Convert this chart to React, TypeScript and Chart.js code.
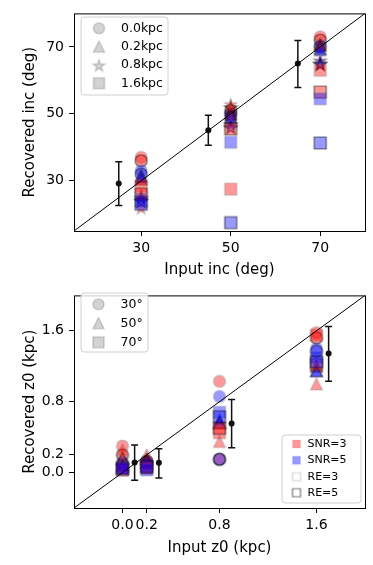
import React, { useEffect, useRef } from 'react';
import { Chart, registerables } from 'chart.js';

Chart.register(...registerables);

const FONT = "'DejaVu Sans', sans-serif";

// ---------------- Top panel: inclination ----------------
const incInput = [30, 50, 70];
const incTickValues = [30, 50, 70];
const incAxisLimits = [15, 80];
const z0Labels = ['0.0kpc', '0.2kpc', '0.8kpc', '1.6kpc'];
// recovered inclination; rows: SNR=3/RE=3, SNR=3/RE=5, SNR=5/RE=3, SNR=5/RE=5
const recInc_z00 = [[37, 50, 73], [36, 51, 72], [33, 49, 70.5], [32, 50, 70]];
const recInc_z02 = [[31, 49, 71], [30.5, 50, 70.5], [31, 48, 69], [31.5, 49, 69.5]];
const recInc_z08 = [[22, 53, 66], [24, 52, 65], [26, 47, 66], [25, 46, 65]];
const recInc_z16 = [[28.5, 27.5, 63], [26, 45.5, 56.5], [24, 41.5, 54.5], [23, 17.5, 41.3]];
const incErrX = [25, 45, 65];
const incErrMid = [29.2, 45.1, 65];
const incErrLo = [22.6, 40.6, 57.9];
const incErrHi = [35.7, 49.6, 71.9];

// ---------------- Bottom panel: z0 ----------------
const z0Input = [0.0, 0.2, 0.8, 1.6];
const z0TickValues = [0.0, 0.2, 0.8, 1.6];
const z0AxisLimits = [-0.4, 2.0];
const incLabels = ['30°', '50°', '70°'];
const recZ0_inc30 = [[0.3, 0.12, 1.03, 1.58], [0.2, 0.1, 0.15, 1.52], [0.12, 0.12, 0.86, 1.4], [0.09, 0.13, 0.15, 1.37]];
const recZ0_inc50 = [[0.26, 0.2, 0.35, 1.0], [0.16, 0.15, 0.56, 1.2], [0.1, 0.1, 0.6, 1.15], [0.08, 0.12, 0.57, 1.15]];
const recZ0_inc70 = [[0.05, 0.05, 0.45, 1.55], [0.03, 0.06, 0.5, 1.22], [0.04, 0.03, 0.68, 1.3], [0.05, 0.07, 0.63, 1.25]];
const z0ErrX = [0.1, 0.3, 0.9, 1.7];
const z0ErrMid = [0.115, 0.11, 0.555, 1.344];
const z0ErrLo = [-0.087, -0.06, 0.28, 1.03];
const z0ErrHi = [0.31, 0.27, 0.825, 1.65];

const comboLabels = ['SNR=3', 'SNR=5', 'RE=3', 'RE=5'];

// styles for combos: SNR3/RE3, SNR3/RE5, SNR5/RE3, SNR5/RE5
const RED = 'rgba(255,0,0,0.4)';
const BLUE = 'rgba(0,0,255,0.4)';
const EDGE3 = 'rgba(128,128,128,0.4)';
const EDGE5 = 'rgba(0,0,0,0.55)';
const comboFill = [RED, RED, BLUE, BLUE];
const comboEdge = [EDGE3, EDGE5, EDGE3, EDGE5];

function markerCanvas(shape: string, fill: string, stroke: string, size = 12, lw = 1.2) {
  const pad = 3;
  const d = Math.ceil(size + pad * 2);
  const c = document.createElement('canvas');
  c.width = d;
  c.height = d;
  const ctx = c.getContext('2d')!;
  const cx = d / 2, cy = d / 2, r = size / 2;
  ctx.beginPath();
  if (shape === 'circle') {
    ctx.arc(cx, cy, r, 0, Math.PI * 2);
  } else if (shape === 'triangle') {
    ctx.moveTo(cx, cy - r);
    ctx.lineTo(cx - r, cy + r);
    ctx.lineTo(cx + r, cy + r);
    ctx.closePath();
  } else if (shape === 'square') {
    ctx.rect(cx - r, cy - r, size, size);
  } else if (shape === 'star') {
    const R = r * 1.1;
    for (let i = 0; i < 10; i++) {
      const rr = i % 2 === 0 ? R : R * 0.382;
      const a = -Math.PI / 2 + (i * Math.PI) / 5;
      const px = cx + rr * Math.cos(a);
      const py = cy + 1 + rr * Math.sin(a);
      if (i === 0) ctx.moveTo(px, py);
      else ctx.lineTo(px, py);
    }
    ctx.closePath();
  }
  ctx.fillStyle = fill;
  ctx.fill();
  if (lw > 0) {
    ctx.lineWidth = lw;
    ctx.strokeStyle = stroke;
    ctx.stroke();
  }
  return c;
}

function framePlugin() {
  return {
    id: 'frame',
    afterDraw(chart: any) {
      const { ctx, chartArea: a } = chart;
      ctx.save();
      ctx.strokeStyle = '#000';
      ctx.lineWidth = 1;
      ctx.strokeRect(a.left + 0.5, a.top + 0.5, a.right - a.left, a.bottom - a.top);
      ctx.restore();
    },
  };
}

function errorBarPlugin(xs: number[], lo: number[], hi: number[]) {
  return {
    id: 'errbars',
    beforeDatasetsDraw(chart: any) {
      const { ctx, scales } = chart;
      const sx = scales.x, sy = scales.y;
      ctx.save();
      ctx.strokeStyle = '#111';
      ctx.lineWidth = 1.5;
      xs.forEach((xv, i) => {
        const px = sx.getPixelForValue(xv);
        const pl = sy.getPixelForValue(lo[i]);
        const ph = sy.getPixelForValue(hi[i]);
        ctx.beginPath();
        ctx.moveTo(px, pl);
        ctx.lineTo(px, ph);
        ctx.moveTo(px - 3.5, pl);
        ctx.lineTo(px + 3.5, pl);
        ctx.moveTo(px - 3.5, ph);
        ctx.lineTo(px + 3.5, ph);
        ctx.stroke();
      });
      ctx.restore();
    },
  };
}

type LegendSpec = {
  id: string;
  box: [number, number, number, number];
  markerX: number;
  textX: number;
  rows: number[];
  items: { img: HTMLCanvasElement; label: string }[];
  fontSize: number;
};

function legendPlugin(spec: LegendSpec) {
  return {
    id: spec.id,
    afterDraw(chart: any) {
      const ctx = chart.ctx;
      const [x, y, w, h] = spec.box;
      ctx.save();
      ctx.beginPath();
      const r = 3;
      ctx.moveTo(x + r, y);
      ctx.lineTo(x + w - r, y);
      ctx.arcTo(x + w, y, x + w, y + r, r);
      ctx.lineTo(x + w, y + h - r);
      ctx.arcTo(x + w, y + h, x + w - r, y + h, r);
      ctx.lineTo(x + r, y + h);
      ctx.arcTo(x, y + h, x, y + h - r, r);
      ctx.lineTo(x, y + r);
      ctx.arcTo(x, y, x + r, y, r);
      ctx.closePath();
      ctx.fillStyle = 'rgba(255,255,255,0.8)';
      ctx.fill();
      ctx.strokeStyle = '#d0d0d0';
      ctx.lineWidth = 1;
      ctx.stroke();
      ctx.font = `${spec.fontSize}px ${FONT}`;
      ctx.textBaseline = 'middle';
      ctx.textAlign = 'left';
      ctx.fillStyle = '#000';
      spec.items.forEach((it, i) => {
        ctx.drawImage(it.img, spec.markerX - it.img.width / 2, spec.rows[i] - it.img.height / 2);
        ctx.fillText(it.label, spec.textX, spec.rows[i]);
      });
      ctx.restore();
    },
  };
}

function axisConfig(opts: {
  min: number; max: number; ticks: number[]; fmt: (v: number) => string;
  title: string; horizontal: boolean; size: number; titlePad: any;
}) {
  return {
    type: 'linear',
    min: opts.min,
    max: opts.max,
    afterBuildTicks: (s: any) => {
      s.ticks = opts.ticks.map((v) => ({ value: v }));
    },
    afterFit: (s: any) => {
      if (opts.horizontal) s.height = opts.size;
      else s.width = opts.size;
    },
    ticks: {
      autoSkip: false,
      maxRotation: 0,
      minRotation: 0,
      padding: opts.horizontal ? 4 : 5,
      color: '#000',
      font: { family: FONT, size: 14 },
      callback: (v: any) => opts.fmt(Number(v)),
    },
    grid: {
      drawOnChartArea: false,
      drawTicks: true,
      tickLength: 5,
      color: '#000',
      lineWidth: 1,
    },
    border: { display: false },
    title: {
      display: true,
      text: opts.title,
      color: '#000',
      font: { family: FONT, size: 15 },
      padding: opts.titlePad,
    },
  };
}

function buildDatasets(xs: number[], groups: number[][][], shapes: string[]) {
  const ds: any[] = [];
  let k = 0;
  groups.forEach((g, gi) => {
    g.forEach((ys, ci) => {
      const img = markerCanvas(shapes[gi], comboFill[ci], comboEdge[ci]);
      ds.push({
        data: xs.map((x, i) => ({ x, y: ys[i] })),
        pointStyle: img,
        pointRadius: 6,
        pointHoverRadius: 6,
        order: -k,
      });
      k++;
    });
  });
  return ds;
}

function diagDataset(lim: number[]) {
  return {
    data: [{ x: lim[0], y: lim[0] }, { x: lim[1], y: lim[1] }],
    showLine: true,
    borderColor: '#000',
    borderWidth: 1,
    pointRadius: 0,
    order: -1000,
  };
}

function errDotDataset(xs: number[], ys: number[]) {
  return {
    data: xs.map((x, i) => ({ x, y: ys[i] })),
    pointStyle: 'circle',
    pointRadius: 3,
    pointBackgroundColor: '#111',
    pointBorderWidth: 0,
    order: -999,
  };
}

export default function App() {
  const topRef = useRef<HTMLCanvasElement>(null);
  const botRef = useRef<HTMLCanvasElement>(null);

  useEffect(() => {
    const legendGray = 'rgba(150,150,150,0.42)';
    const legendEdge = 'rgba(128,128,128,0.45)';

    const topShapes = ['circle', 'triangle', 'star', 'square'];
    const topChart = new Chart(topRef.current!, {
      type: 'scatter',
      data: {
        datasets: [
          diagDataset(incAxisLimits),
          errDotDataset(incErrX, incErrMid),
          ...buildDatasets(incInput, [recInc_z00, recInc_z02, recInc_z08, recInc_z16], topShapes),
        ],
      },
      options: {
        responsive: false,
        animation: false,
        events: [],
        layout: { padding: { left: 0, right: 8, top: 11, bottom: 0 } },
        plugins: { legend: { display: false }, tooltip: { enabled: false } },
        scales: {
          x: axisConfig({
            min: incAxisLimits[0], max: incAxisLimits[1], ticks: incTickValues,
            fmt: (v) => String(v), title: 'Input inc (deg)', horizontal: true, size: 51,
            titlePad: { top: 0, bottom: 3 },
          }),
          y: axisConfig({
            min: incAxisLimits[0], max: incAxisLimits[1], ticks: incTickValues,
            fmt: (v) => String(v), title: 'Recovered inc (deg)', horizontal: false, size: 74,
            titlePad: { top: 21, bottom: 0 },
          }),
        } as any,
      },
      plugins: [
        errorBarPlugin(incErrX, incErrLo, incErrHi),
        framePlugin(),
        legendPlugin({
          id: 'legTop',
          box: [81, 17, 87, 78],
          markerX: 99,
          textX: 121,
          rows: [28.3, 46.7, 65, 83.3],
          fontSize: 12.5,
          items: z0Labels.map((l, i) => ({ img: markerCanvas(topShapes[i], legendGray, legendEdge, 11), label: l })),
        }),
      ] as any,
    } as any);

    const botShapes = ['circle', 'triangle', 'square'];
    const comboImgs = [
      markerCanvas('square', RED, 'rgba(255,0,0,0.1)', 8, 1),
      markerCanvas('square', BLUE, 'rgba(0,0,255,0.1)', 8, 1),
      markerCanvas('square', 'rgba(255,255,255,0)', 'rgba(128,128,128,0.35)', 8, 1.2),
      markerCanvas('square', 'rgba(255,255,255,0)', 'rgba(0,0,0,0.55)', 8, 1.2),
    ];
    const botChart = new Chart(botRef.current!, {
      type: 'scatter',
      data: {
        datasets: [
          diagDataset(z0AxisLimits),
          errDotDataset(z0ErrX, z0ErrMid),
          ...buildDatasets(z0Input, [recZ0_inc30, recZ0_inc50, recZ0_inc70], botShapes),
        ],
      },
      options: {
        responsive: false,
        animation: false,
        events: [],
        layout: { padding: { left: 0, right: 8, top: 5, bottom: 0 } },
        plugins: { legend: { display: false }, tooltip: { enabled: false } },
        scales: {
          x: axisConfig({
            min: z0AxisLimits[0], max: z0AxisLimits[1], ticks: z0TickValues,
            fmt: (v) => v.toFixed(1), title: 'Input z0 (kpc)', horizontal: true, size: 57,
            titlePad: { top: 0, bottom: 8 },
          }),
          y: axisConfig({
            min: z0AxisLimits[0], max: z0AxisLimits[1], ticks: z0TickValues,
            fmt: (v) => v.toFixed(1), title: 'Recovered z0 (kpc)', horizontal: false, size: 74,
            titlePad: { top: 21, bottom: 0 },
          }),
        } as any,
      },
      plugins: [
        errorBarPlugin(z0ErrX, z0ErrLo, z0ErrHi),
        framePlugin(),
        legendPlugin({
          id: 'legInc',
          box: [81, 11, 67, 59],
          markerX: 98.5,
          textX: 120.5,
          rows: [22.3, 41.3, 60.3],
          fontSize: 12.5,
          items: incLabels.map((l, i) => ({ img: markerCanvas(botShapes[i], legendGray, legendEdge, 11), label: l })),
        }),
        legendPlugin({
          id: 'legCombo',
          box: [282, 153, 79, 68],
          markerX: 296.5,
          textX: 307.5,
          rows: [162, 178.3, 194.7, 210.7],
          fontSize: 11,
          items: comboLabels.map((l, i) => ({ img: comboImgs[i], label: l })),
        }),
      ] as any,
    } as any);

    return () => {
      topChart.destroy();
      botChart.destroy();
    };
  }, []);

  return (
    <div style={{ position: 'absolute', left: 0, top: 0, width: 373, height: 565, background: '#fff' }}>
      <canvas ref={topRef} width={373} height={282} style={{ display: 'block', width: 373, height: 282 }} />
      <canvas ref={botRef} width={373} height={283} style={{ display: 'block', width: 373, height: 283 }} />
    </div>
  );
}
